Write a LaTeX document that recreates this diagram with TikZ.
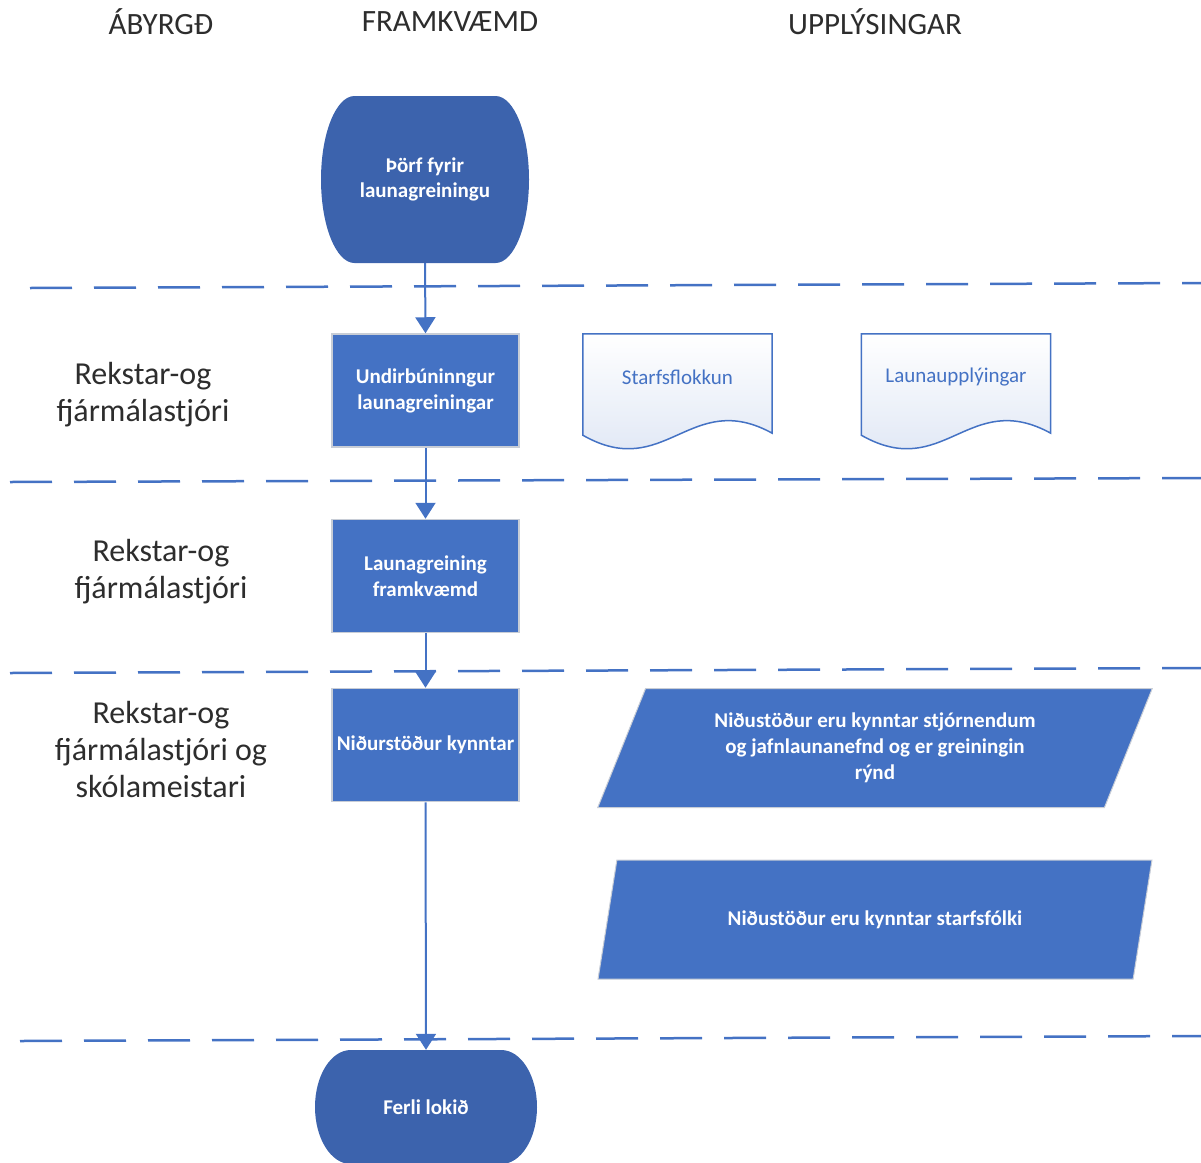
\documentclass[tikz,border=0pt]{standalone}
\usepackage{fontspec}
\setmainfont{Carlito}
\usepackage{tikz}
\usetikzlibrary{positioning, shapes.geometric, arrows.meta, calc, backgrounds}
\usepackage{xcolor}

\definecolor{boxblue}{RGB}{68,114,196}
\definecolor{termblue}{RGB}{60,99,173}
\definecolor{boxline}{RGB}{200,205,214}
\definecolor{docshade}{RGB}{218,227,243}
\definecolor{headgray}{RGB}{45,45,45}

\begin{document}
\begin{tikzpicture}[
    x=1pt, y=1pt,
    head/.style={text=headgray, font=\fontsize{31}{36}\selectfont},
    lane/.style={text=headgray, align=center, font=\fontsize{32}{37}\selectfont},
    terminal/.style 2 args={
        minimum width=#1pt, minimum height=#2pt, inner sep=0pt,
        text=white, align=center, font=\fontsize{21}{25}\selectfont\bfseries,
        path picture={
            \fill[termblue]
                ($(path picture bounding box.north west)+(0.161*#1,0)$)
                -- ($(path picture bounding box.north east)+(-0.161*#1,0)$)
                arc[start angle=90, end angle=-90, x radius=0.161*#1pt, y radius=#2pt/2]
                -- ($(path picture bounding box.south west)+(0.161*#1,0)$)
                arc[start angle=270, end angle=90, x radius=0.161*#1pt, y radius=#2pt/2]
                -- cycle;
        }
    },
    process/.style={
        rectangle, fill=boxblue, draw=boxline, line width=1.5pt,
        minimum width=187pt, minimum height=113pt, inner sep=2pt,
        text=white, align=center, font=\fontsize{21}{26}\selectfont\bfseries
    },
    document/.style={
        minimum width=189pt, minimum height=86pt,
        text=boxblue, font=\fontsize{21}{25}\selectfont
    },
    docline/.style={draw=boxblue, line width=1.5pt, top color=white, bottom color=docshade},
    io/.style={
        trapezium, trapezium left angle=66, trapezium right angle=114,
        trapezium stretches=true, minimum width=556pt, minimum height=119pt,
        fill=boxblue, draw=boxline, line width=1pt,
        text=white, align=center, font=\fontsize{21}{26}\selectfont\bfseries
    },
    lanesep/.style={draw=boxblue, line width=2.5pt, dash pattern=on 42pt off 22pt},
    flow/.style={draw=boxblue, line width=2pt, -{Triangle[width=20pt, length=16pt]}}
]
    \useasboundingbox (0,0) rectangle (1201,-1162);

    % column headings
    \node[head] (hresp) at (161,-22) {ÁBYRGĐ};
    \node[head] (hdo) at (450,-22) {FRAMKVÆMD};
    \node[head] (hinfo) at (875,-22) {UPPLÝSINGAR};

    % lane separators
    \draw[lanesep] (30,-288) -- (1201,-283);
    \draw[lanesep] (10,-482) -- (1201,-478);
    \draw[lanesep] (10,-673) -- (1201,-668);
    \draw[lanesep] (20,-1041) -- (1201,-1036);

    % who is responsible
    \node[lane] (role1) at (143,-395) {Rekstar-og\\fjármálastjóri};
    \node[lane] (role2) at (161,-572) {Rekstar-og\\fjármálastjóri};
    \node[lane] (role3) at (161,-749) {Rekstar-og\\fjármálastjóri og\\skólameistari};

    % main flow
    \node[terminal={208}{167}] (start) at (425,-179.5) {Þörf fyrir\\launagreiningu};
    \node[process] (prep) at (425.5,-390.5) {Undirbúninngur\\launagreiningar};
    \node[process] (analysis) at (425.5,-576) {Launagreining\\framkvæmd};
    \node[process] (results) at (425.5,-745) {Niðurstöður kynntar};
    \node[terminal={222}{114}] (finish) at (426,-1107) {Ferli lokið};

    % information
    \node[document] (jobcat) at (677.5,-377) {Starfsflokkun};
    \node[document] (payinfo) at (956,-377) {Launaupplýingar};
    \node[io] (present) at (875,-748) {Niðustöður eru kynntar stjórnendum\\og jafnlaunanefnd og er greiningin\\rýnd};
    \node[io] (staff) at (875,-919.5) {Niðustöður eru kynntar starfsfólki};

    \begin{scope}[on background layer]
        \foreach \d in {jobcat,payinfo}
            \path[docline] (\d.north west) -- (\d.north east)
                -- ($(\d.south east)+(0,-13)$)
                .. controls ($(\d.south east)+(-82,32)$) and ($(\d.south east)+(-107,-62)$)
                .. ($(\d.south west)+(0,-15)$) -- cycle;
    \end{scope}

    \path
        (start.south) edge[flow] (prep.north)
        (prep.south) edge[flow] (analysis.north)
        (analysis.south) edge[flow] (results.north)
        (results.south) edge[flow] (finish.north);
\end{tikzpicture}
\end{document}
